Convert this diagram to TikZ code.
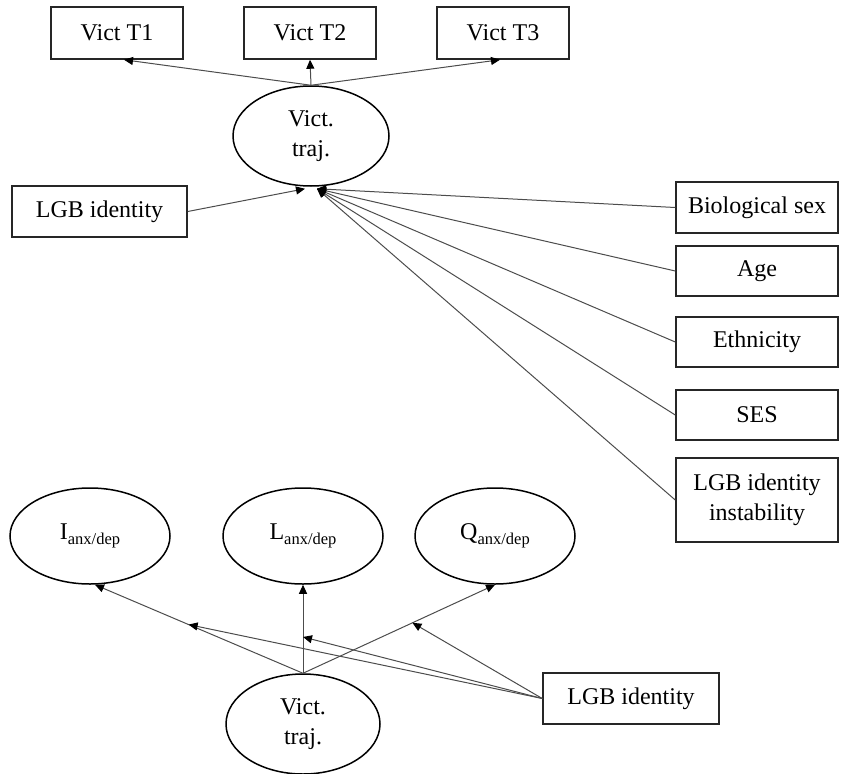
\documentclass[tikz,border=0pt]{standalone}
\usepackage{fontspec}
\setmainfont{Liberation Serif}
\usetikzlibrary{shapes.geometric,arrows.meta,calc}
\newcommand{\subtxt}[1]{\raisebox{-5pt}{\fontsize{16.5}{16.5}\selectfont #1}}
\begin{document}
\begin{tikzpicture}[x=1pt,y=-1pt,
  box/.style={draw=black!85,line width=1.5pt,rectangle,inner sep=0pt,
    font=\fontsize{24}{30}\selectfont,align=center},
  lat/.style={draw=black,line width=1.5pt,ellipse,inner sep=0pt,
    minimum width=156pt,minimum height=100pt,
    font=\fontsize{24}{30}\selectfont,align=center},
  arr/.style={draw=black!70,line width=1pt,-{Triangle[length=9pt,width=8pt,color=black]}}]
\useasboundingbox (0,0) rectangle (842,773);

% top part
\node[box,minimum width=132pt,minimum height=52pt] (t1) at (117,33) {Vict T1};
\node[box,minimum width=132pt,minimum height=52pt] (t2) at (310,33) {Vict T2};
\node[box,minimum width=132pt,minimum height=52pt] (t3) at (503,33) {Vict T3};
\node[lat] (vt) at (311,136) {Vict.\\traj.};

\node[box,minimum width=175pt,minimum height=51pt] (lgb1) at (99.5,211.5) {LGB identity};
\node[box,minimum width=162pt,minimum height=51pt] (sex) at (757,207.5) {Biological sex};
\node[box,minimum width=162pt,minimum height=50pt] (age) at (757,271) {Age};
\node[box,minimum width=162pt,minimum height=50pt] (eth) at (757,342) {Ethnicity};
\node[box,minimum width=162pt,minimum height=50pt] (ses) at (757,415) {SES};
\node[box,minimum width=162pt,minimum height=84pt] (ins) at (757,500) {LGB identity\\instability};

\coordinate (tipL) at ($(vt.south)+(-6,2)$);
\coordinate (tipR) at ($(vt.south)+(6,2)$);

\draw[arr] (vt.north) -- ([xshift=7pt]t1.south);
\draw[arr] (vt.north) -- (t2.south);
\draw[arr] (vt.north) -- ([xshift=-3pt]t3.south);

\draw[arr] (lgb1.east) -- (tipL);
\draw[arr] (sex.west) -- (tipR);
\draw[arr] (age.west) -- (tipR);
\draw[arr] (eth.west) -- (tipR);
\draw[arr] (ses.west) -- (tipR);
\draw[arr] (ins.west) -- (tipR);

% bottom part
\node[lat,minimum width=160pt,minimum height=96pt] (ia) at (90,536) {I\subtxt{anx/dep}};
\node[lat,minimum width=160pt,minimum height=96pt] (la) at (303,536) {L\subtxt{anx/dep}};
\node[lat,minimum width=160pt,minimum height=96pt] (qa) at (495,536) {Q\subtxt{anx/dep}};
\node[lat,minimum width=154pt,minimum height=100pt] (vb) at (303,724) {Vict.\\traj.};
\node[box,minimum width=176pt,minimum height=51pt] (lgb2) at (631,698.5) {LGB identity};

\draw[arr] (vb.north) -- ([xshift=5pt]ia.south) coordinate[pos=0.55] (mI);
\draw[arr] (vb.north) -- (la.south) coordinate[pos=0.41] (mL);
\draw[arr] (vb.north) -- (qa.south) coordinate[pos=0.57] (mQ);

\draw[arr] (lgb2.west) -- (mI);
\draw[arr] (lgb2.west) -- (mL);
\draw[arr] (lgb2.west) -- (mQ);
\end{tikzpicture}
\end{document}
